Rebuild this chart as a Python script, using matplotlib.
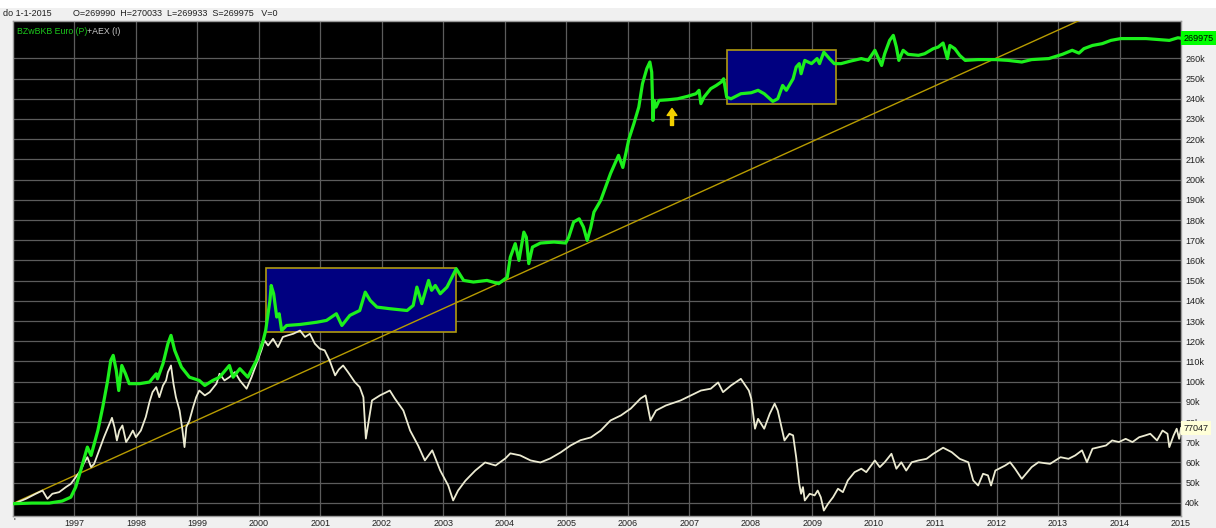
import matplotlib
matplotlib.use('Agg')
import matplotlib.pyplot as plt
from matplotlib.patches import Rectangle
from matplotlib.transforms import blended_transform_factory, offset_copy

# Tipografia
plt.rcParams['font.family'] = ['Liberation Sans', 'DejaVu Sans']

# Serie verde (fondo, en miles)
anio_fondo = [1996.02, 1996.31, 1996.59, 1996.80, 1996.94, 1997.02, 1997.10, 1997.21, 1997.27, 1997.38,
              1997.46, 1997.54, 1997.59, 1997.63, 1997.68, 1997.72, 1997.77, 1997.83, 1997.89, 1998.06,
              1998.22, 1998.33, 1998.35, 1998.44, 1998.52, 1998.57, 1998.63, 1998.74, 1998.87, 1999.03,
              1999.12, 1999.25, 1999.36, 1999.52, 1999.58, 1999.69, 1999.82, 1999.96, 2000.07, 2000.11,
              2000.18, 2000.20, 2000.24, 2000.29, 2000.33, 2000.37, 2000.45, 2000.67, 2000.94, 2001.10,
              2001.26, 2001.35, 2001.48, 2001.64, 2001.73, 2001.81, 2001.92, 2002.13, 2002.41, 2002.51,
              2002.57, 2002.65, 2002.76, 2002.81, 2002.87, 2002.95, 2003.06, 2003.17, 2003.21, 2003.33,
              2003.49, 2003.71, 2003.90, 2004.04, 2004.09, 2004.17, 2004.23, 2004.31, 2004.35, 2004.39,
              2004.45, 2004.58, 2004.80, 2004.99, 2005.04, 2005.12, 2005.21, 2005.28, 2005.34, 2005.40,
              2005.45, 2005.56, 2005.72, 2005.85, 2005.92, 2006.02, 2006.10, 2006.18, 2006.24, 2006.31,
              2006.36, 2006.39, 2006.40, 2006.41, 2006.43, 2006.46, 2006.51, 2006.65, 2006.81, 2006.97,
              2007.11, 2007.16, 2007.19, 2007.24, 2007.35, 2007.44, 2007.52, 2007.56, 2007.61, 2007.68,
              2007.84, 2008.01, 2008.12, 2008.22, 2008.36, 2008.44, 2008.52, 2008.58, 2008.69, 2008.74,
              2008.79, 2008.82, 2008.88, 2008.99, 2009.08, 2009.12, 2009.19, 2009.28, 2009.36, 2009.47,
              2009.63, 2009.80, 2009.91, 2010.02, 2010.07, 2010.13, 2010.18, 2010.26, 2010.32, 2010.37,
              2010.41, 2010.48, 2010.56, 2010.73, 2010.83, 2010.97, 2011.05, 2011.13, 2011.20, 2011.24,
              2011.32, 2011.40, 2011.49, 2011.70, 2011.98, 2012.19, 2012.41, 2012.57, 2012.85, 2013.07,
              2013.23, 2013.34, 2013.42, 2013.56, 2013.72, 2013.86, 2014.02, 2014.43, 2014.81, 2014.95,
              2015.0]
valor_fondo = [39.6, 39.9, 39.9, 40.9, 42.8, 47.8, 56.0, 67.6, 63.5, 75.8,
               87.4, 100.6, 110.5, 113.0, 105.5, 95.6, 108.0, 103.9, 99.0, 99.0,
               99.8, 103.9, 101.4, 108.9, 118.8, 122.9, 115.5, 107.2, 102.2, 100.6,
               98.1, 100.6, 102.2, 108.0, 102.2, 106.4, 102.2, 110.5, 120.4, 125.3,
               140.2, 147.6, 143.5, 132.0, 133.6, 125.3, 127.8, 128.3, 129.4, 130.3,
               133.6, 127.8, 132.8, 135.2, 144.3, 140.2, 136.9, 136.1, 135.2, 137.7,
               146.8, 138.6, 150.1, 145.2, 147.6, 143.5, 146.8, 153.4, 155.9, 150.1,
               149.3, 150.1, 148.5, 151.7, 161.6, 168.3, 160.0, 174.0, 171.5, 158.4,
               166.6, 168.6, 169.1, 168.6, 171.5, 179.0, 180.6, 176.5, 169.9, 176.5,
               183.9, 189.7, 203.0, 212.0, 206.0, 220.2, 227.7, 235.9, 247.5, 254.9,
               258.2, 253.2, 242.5, 229.3, 239.2, 235.9, 239.2, 239.5, 240.0, 241.2,
               242.5, 244.2, 237.6, 240.8, 245.0, 246.6, 248.3, 249.9, 240.8, 240.0,
               242.5, 243.0, 244.2, 242.5, 238.7, 240.0, 246.6, 244.2, 249.9, 255.7,
               257.4, 252.4, 259.0, 257.4, 259.9, 257.4, 263.1, 259.9, 257.4, 257.4,
               258.7, 259.9, 259.0, 264.0, 260.6, 256.5, 262.3, 268.9, 271.4, 265.6,
               259.0, 264.0, 262.0, 261.5, 262.3, 264.8, 265.6, 267.6, 259.9, 266.4,
               264.8, 261.5, 259.0, 259.4, 259.4, 259.0, 258.2, 259.4, 259.9, 262.0,
               264.0, 262.6, 264.8, 266.4, 267.3, 268.9, 269.8, 269.8, 268.9, 270.2,
               269.975]

# Serie AEX (indice, en miles)
anio_aex = [1996.02, 1996.21, 1996.37, 1996.48, 1996.56, 1996.64, 1996.75, 1996.86, 1996.94, 1997.00,
            1997.10, 1997.16, 1997.21, 1997.27, 1997.32, 1997.40, 1997.48, 1997.57, 1997.61, 1997.65,
            1997.69, 1997.73, 1997.78, 1997.84, 1997.89, 1997.95, 1998.00, 1998.08, 1998.16, 1998.22,
            1998.27, 1998.33, 1998.38, 1998.44, 1998.49, 1998.52, 1998.57, 1998.61, 1998.65, 1998.71,
            1998.75, 1998.79, 1998.82, 1998.87, 1998.93, 1998.98, 1999.03, 1999.12, 1999.20, 1999.31,
            1999.36, 1999.44, 1999.52, 1999.61, 1999.69, 1999.80, 1999.88, 1999.96, 2000.04, 2000.09,
            2000.15, 2000.23, 2000.31, 2000.39, 2000.47, 2000.56, 2000.67, 2000.75, 2000.83, 2000.91,
            2000.99, 2001.07, 2001.15, 2001.24, 2001.30, 2001.37, 2001.45, 2001.56, 2001.64, 2001.70,
            2001.74, 2001.84, 2001.97, 2002.13, 2002.21, 2002.35, 2002.46, 2002.59, 2002.70, 2002.82,
            2002.95, 2003.08, 2003.16, 2003.24, 2003.36, 2003.52, 2003.68, 2003.85, 2004.01, 2004.09,
            2004.25, 2004.42, 2004.58, 2004.74, 2004.91, 2005.07, 2005.23, 2005.40, 2005.56, 2005.72,
            2005.89, 2006.05, 2006.21, 2006.29, 2006.37, 2006.46, 2006.62, 2006.86, 2007.03, 2007.19,
            2007.35, 2007.47, 2007.55, 2007.68, 2007.84, 2007.97, 2008.01, 2008.07, 2008.12, 2008.17,
            2008.22, 2008.31, 2008.39, 2008.44, 2008.50, 2008.55, 2008.63, 2008.69, 2008.74, 2008.79,
            2008.82, 2008.85, 2008.88, 2008.96, 2009.04, 2009.09, 2009.14, 2009.19, 2009.26, 2009.34,
            2009.42, 2009.50, 2009.58, 2009.69, 2009.80, 2009.88, 2010.02, 2010.10, 2010.18, 2010.29,
            2010.37, 2010.45, 2010.53, 2010.62, 2010.73, 2010.86, 2010.97, 2011.13, 2011.27, 2011.40,
            2011.54, 2011.62, 2011.70, 2011.78, 2011.86, 2011.91, 2011.98, 2012.14, 2012.22, 2012.30,
            2012.41, 2012.57, 2012.68, 2012.87, 2013.04, 2013.17, 2013.28, 2013.39, 2013.47, 2013.56,
            2013.67, 2013.78, 2013.88, 2013.99, 2014.10, 2014.21, 2014.32, 2014.42, 2014.50, 2014.61,
            2014.70, 2014.78, 2014.81, 2014.88, 2014.93, 2014.97, 2015.0]
valor_aex = [39.6, 42.0, 44.5, 46.1, 42.0, 44.5, 45.3, 47.8, 49.4, 51.9,
             56.0, 60.1, 62.6, 57.7, 59.3, 65.9, 72.5, 79.1, 82.1, 77.5,
             70.9, 75.8, 78.3, 70.1, 72.5, 75.8, 72.5, 75.8, 82.5, 89.9,
             94.8, 97.3, 92.3, 98.1, 100.6, 104.7, 108.0, 99.0, 92.3, 85.7,
             77.5, 67.6, 77.5, 80.8, 87.4, 92.3, 95.6, 93.2, 94.8, 99.0,
             103.9, 100.6, 102.2, 104.7, 100.6, 96.5, 102.2, 108.9, 115.5, 120.4,
             117.9, 121.2, 117.1, 122.1, 122.9, 123.7, 125.3, 122.1, 123.7, 118.8,
             116.3, 115.5, 110.5, 103.1, 106.0, 108.0, 104.7, 99.8, 97.3, 92.3,
             71.8, 90.7, 93.2, 95.6, 91.7, 85.7, 75.8, 68.4, 61.0, 66.0,
             56.0, 48.6, 41.2, 46.1, 51.0, 56.0, 60.0, 58.5, 62.0, 64.5,
             63.5, 61.0, 60.0, 62.0, 65.0, 68.4, 71.0, 72.4, 75.8, 80.8,
             83.3, 86.7, 91.7, 93.2, 80.8, 85.7, 88.2, 90.7, 93.2, 95.6,
             96.5, 99.6, 94.8, 98.1, 101.4, 95.6, 91.5, 76.7, 81.6, 79.2,
             76.7, 84.1, 89.1, 85.7, 77.5, 70.9, 74.2, 73.4, 62.6, 49.4,
             44.5, 47.8, 41.2, 44.5, 43.7, 46.1, 42.8, 36.2, 39.6, 42.8,
             47.0, 45.3, 51.1, 55.2, 56.9, 55.2, 61.0, 57.7, 60.1, 64.3,
             56.9, 60.1, 56.0, 60.1, 61.0, 61.8, 64.3, 67.3, 65.1, 61.8,
             60.1, 51.1, 48.6, 54.4, 53.6, 48.6, 56.0, 58.5, 60.1, 56.9,
             51.9, 57.7, 60.1, 59.3, 62.6, 61.8, 63.5, 66.0, 60.1, 66.8,
             67.6, 68.4, 70.9, 70.1, 71.7, 70.1, 72.5, 73.4, 74.2, 70.9,
             75.8, 74.2, 67.6, 73.4, 76.7, 71.7, 77.047]

# Linea de tendencia (dos extremos leidos)
tendencia_x = [1996.0, 2013.4]
tendencia_y = [39.7, 279.5]

# Zonas de consolidacion: (inicio, fin, minimo, maximo)
zonas = [(2000.11, 2003.21, 124.5, 156.4),
         (2007.61, 2009.38, 237.6, 264.0)]

# Flecha
flecha_anio = 2006.72
flecha_desde = 226.8
flecha_hasta = 235.2

anios_eje = list(range(1997, 2016))
niveles = list(range(40, 261, 10))

ANCHO, ALTO = 1216, 528
fig = plt.figure(figsize=(ANCHO / 100, ALTO / 100), dpi=100)
fig.patch.set_facecolor('#f0f0f0')

# franja blanca superior
fig.patches.append(Rectangle((0, 1 - 8 / ALTO), 1, 8 / ALTO, transform=fig.transFigure,
                             facecolor='white', edgecolor='none', zorder=0))

ax = fig.add_axes([13 / ANCHO, 12 / ALTO, (1181 - 13) / ANCHO, (516 - 21) / ALTO])
ax.set_facecolor('black')
ax.set_xlim(1996.0, 2015.0)
ax.set_ylim(33.5, 278.5)

# Rejilla
for a in anios_eje:
    ax.axvline(a, color='#5c5c5c', lw=0.9, zorder=1)
for n in niveles:
    ax.axhline(n, color='#5c5c5c', lw=0.9, zorder=1)

for (x0, x1, y0, y1) in zonas:
    ax.add_patch(Rectangle((x0, y0), x1 - x0, y1 - y0, facecolor='#000080',
                           edgecolor='#b09a10', lw=1.2, zorder=2))

ax.plot(tendencia_x, tendencia_y, color='#b89c00', lw=1.0, zorder=3)
ax.plot(anio_aex, valor_aex, color='#ecebd2', lw=1.3, zorder=4)
ax.plot(anio_fondo, valor_fondo, color='#1cf01c', lw=2.3, zorder=5)

ax.annotate('', xy=(flecha_anio, flecha_hasta), xytext=(flecha_anio, flecha_desde),
            arrowprops=dict(facecolor='#f2d000', edgecolor='#f2d000', width=2.2,
                            headwidth=7, headlength=5), zorder=6)

# Ejes
ax.yaxis.tick_right()
ax.set_yticks(niveles)
ax.set_yticklabels([f'{n}k' for n in niveles])
ax.set_xticks(anios_eje)
ax.set_xticklabels([str(a) for a in anios_eje])
ax.tick_params(axis='both', length=0, labelsize=6.5, colors='#202020')
ax.tick_params(axis='y', pad=3)
ax.tick_params(axis='x', pad=2)
for s in ax.spines.values():
    s.set_color('#9a9a9a')
    s.set_linewidth(1)

# Etiquetas de ultimo valor (la amarilla tapa la de 80k, como en el original)
trans = blended_transform_factory(ax.transAxes, ax.transData)
ax.text(1.002, valor_fondo[-1], '269975', transform=trans, fontsize=6.5, va='center', ha='left',
        color='black', bbox=dict(facecolor='#00ff00', edgecolor='none', pad=1.6), zorder=10, clip_on=False)
ax.text(1.002, valor_aex[-1], '77047', transform=trans, fontsize=6.5, va='center', ha='left',
        color='#202020', bbox=dict(facecolor='#ffffd8', edgecolor='none', pad=1.6), zorder=10, clip_on=False)

# Leyenda: dos colores seguidos
t1 = ax.text(0.003, 0.988, 'BZwBKB Euro (P)', transform=ax.transAxes, fontsize=6.3, color='#1cc81c',
             va='top', ha='left', zorder=8)
fig.canvas.draw()
ancho_t1 = t1.get_window_extent().width
ax.text(0.003, 0.988, '+AEX (I)', transform=offset_copy(ax.transAxes, fig=fig, x=ancho_t1, units='dots'),
        fontsize=6.3, color='#c8c8c8', va='top', ha='left', zorder=8)

# Cabecera
fig.text(3 / ANCHO, 1 - 13 / ALTO, 'do 1-1-2015', fontsize=6.5, va='center', ha='left', color='#202020')
fig.text(73 / ANCHO, 1 - 13 / ALTO, 'O=269990  H=270033  L=269933  S=269975   V=0', fontsize=6.5,
         va='center', ha='left', color='#202020')
fig.text(14 / ANCHO, 1 - 521 / ALTO, "'", fontsize=6.5, va='center', ha='center', color='#202020')

fig.savefig('out.png', dpi=100, facecolor=fig.get_facecolor())
plt.close(fig)
